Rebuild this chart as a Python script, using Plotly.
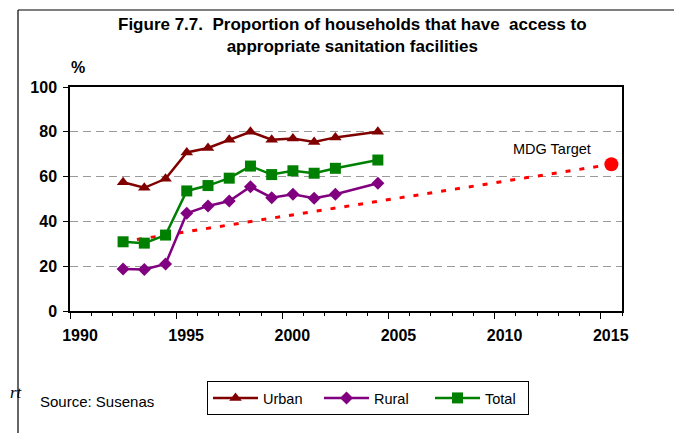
import plotly.graph_objects as go

# ---- data ----
years = [1992, 1993, 1994, 1995, 1996, 1997, 1998, 1999, 2000, 2001, 2002, 2004]
urban = [57.5, 55.0, 59.0, 70.8, 72.8, 76.5, 80.0, 76.5, 77.0, 75.5, 77.5, 80.0]
rural = [18.8, 18.5, 21.0, 43.6, 46.9, 49.1, 55.5, 50.6, 52.1, 50.3, 52.1, 57.0]
total = [30.9, 30.3, 33.9, 53.6, 56.0, 59.3, 64.7, 60.9, 62.6, 61.5, 63.7, 67.4]
target_years = [1992, 2015]
target_values = [30.9, 65.5]
x_tick_labels = [1990, 1995, 2000, 2005, 2010, 2015]
y_ticks = [0, 20, 40, 60, 80, 100]

# page offset of the plot div (default body margin)
OFF = 8
PAGE_W, PAGE_H = 682, 433
W, H = PAGE_W - OFF, PAGE_H - OFF
# plot area in page pixels: x 70..622, y 87..311
PX0, PX1, PY0, PY1 = 70, 622, 87, 311
L, T = PX0 - OFF, PY0 - OFF
R, B = W - (PX1 - OFF), H - (PY1 - OFF)
pw, ph = PX1 - PX0, PY1 - PY0


def px_x(p):
    return (p - PX0) / pw


def px_y(p):
    return (PY1 - p) / ph


FONT = "Liberation Sans, Arial, sans-serif"

fig = go.Figure()

fig.add_trace(go.Scatter(
    x=target_years, y=target_values, mode="lines", showlegend=False,
    line=dict(color="#FF0000", width=3, dash="5px,9px"), hoverinfo="skip"))
fig.add_trace(go.Scatter(
    x=target_years[-1:], y=target_values[-1:], mode="markers", showlegend=False,
    marker=dict(color="#FF0000", size=14, symbol="circle")))

fig.add_trace(go.Scatter(
    x=years, y=urban, name="Urban", mode="lines+markers",
    line=dict(color="#800000", width=2.5),
    marker=dict(symbol="triangle-up", size=11, color="#800000")))
fig.add_trace(go.Scatter(
    x=years, y=rural, name="Rural", mode="lines+markers",
    line=dict(color="#800080", width=2.5),
    marker=dict(symbol="diamond", size=10, color="#800080")))
fig.add_trace(go.Scatter(
    x=years, y=total, name="Total", mode="lines+markers", legendwidth=38,
    line=dict(color="#008000", width=2.5),
    marker=dict(symbol="square", size=11, color="#008000")))

fig.update_layout(
    width=W, height=H,
    margin=dict(l=L, r=R, t=T, b=B, pad=0),
    paper_bgcolor="white", plot_bgcolor="white",
    font=dict(family=FONT, color="black"),
    xaxis=dict(
        range=[1989.5, 2015.5],
        tickmode="array",
        tickvals=[v - 0.5 for v in x_tick_labels],
        ticktext=["<b>%d</b>" % v for v in x_tick_labels],
        ticklabelshift=10,
        ticklabelstandoff=3,
        ticks="outside", ticklen=6, tickwidth=1.2, tickcolor="black",
        minor=dict(ticks="outside", tick0=1989.5, dtick=1, ticklen=3,
                   tickwidth=1.2, tickcolor="black", showgrid=False),
        showline=True, linecolor="black", linewidth=1.5, mirror=True,
        showgrid=False, zeroline=False,
        tickfont=dict(size=16, family=FONT, color="black"),
    ),
    yaxis=dict(
        range=[0, 100],
        tickmode="array", tickvals=y_ticks,
        ticktext=["<b>%d</b>" % v for v in y_ticks],
        ticks="outside", ticklen=5, tickwidth=1.2, tickcolor="black",
        ticklabelstandoff=3,
        showline=True, linecolor="black", linewidth=1.5, mirror=True,
        showgrid=True, gridcolor="#9a9a9a", gridwidth=1.2, griddash="8px,5px",
        zeroline=False,
        tickfont=dict(size=16, family=FONT, color="black"),
    ),
    legend=dict(
        orientation="h", x=px_x(207), y=px_y(381), xanchor="left", yanchor="top",
        bgcolor="white", bordercolor="black", borderwidth=1,
        font=dict(size=14.5, family=FONT, color="black"),
        traceorder="normal", itemwidth=45, entrywidth=51,
    ),
    showlegend=True,
)

annotations = [
    dict(text="<b>Figure 7.7.\u00a0 Proportion of households that have\u00a0 access to<br>appropriate sanitation facilities</b>",
         x=px_x(352), y=px_y(35.5), xref="paper", yref="paper",
         xanchor="center", yanchor="middle", showarrow=False,
         font=dict(size=17, family=FONT, color="black")),
    dict(text="<b>%</b>", x=px_x(78), y=px_y(68), xref="paper", yref="paper",
         xanchor="center", yanchor="middle", showarrow=False,
         font=dict(size=16, family=FONT, color="black")),
    dict(text="MDG Target", x=target_years[-1], y=target_values[-1], xref="x", yref="y",
         xanchor="center", yanchor="middle", xshift=-59, yshift=15, showarrow=False,
         font=dict(size=14.5, family=FONT, color="black")),
    dict(text="Source: Susenas", x=px_x(38), y=px_y(401), xref="paper", yref="paper",
         xanchor="left", yanchor="middle", showarrow=False,
         font=dict(size=15, family=FONT, color="black")),
    dict(text="<i>rt</i>", x=px_x(OFF), y=px_y(392), xref="paper", yref="paper",
         xanchor="left", yanchor="middle", showarrow=False,
         font=dict(size=17, family="Liberation Serif, Times New Roman, serif", color="black")),
]
fig.update_layout(annotations=annotations)

FRAME_X, FRAME_Y = 18, 10
fig.update_layout(shapes=[
    dict(type="line", xref="paper", yref="paper",
         x0=px_x(FRAME_X), x1=px_x(PAGE_W + 2), y0=px_y(FRAME_Y), y1=px_y(FRAME_Y),
         line=dict(color="black", width=1.2)),
    dict(type="line", xref="paper", yref="paper",
         x0=px_x(FRAME_X), x1=px_x(FRAME_X), y0=px_y(FRAME_Y), y1=px_y(PAGE_H + 2),
         line=dict(color="black", width=1.2)),
])

fig.write_html("out.html")
